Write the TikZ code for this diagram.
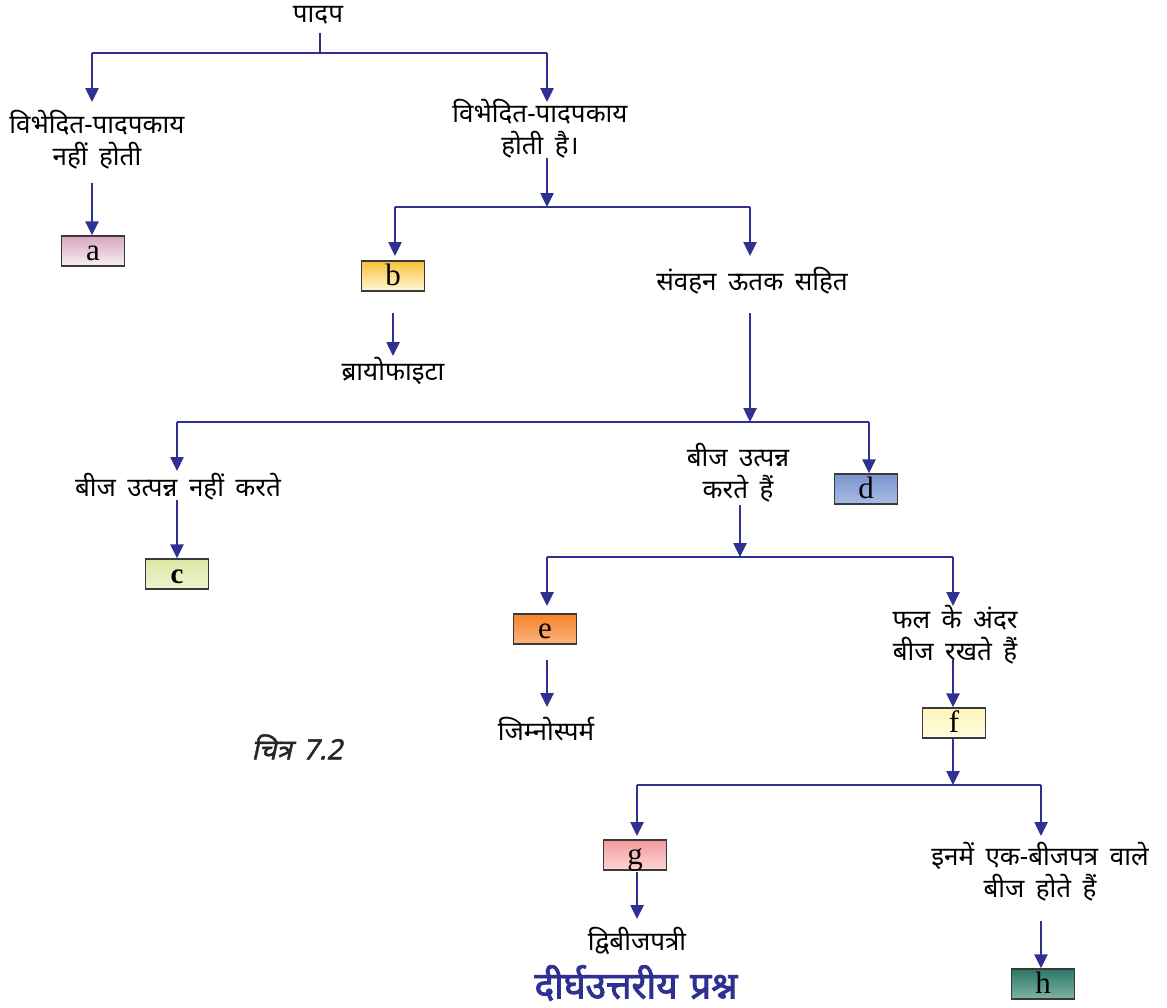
\documentclass[tikz,border=0pt]{standalone}
\usepackage{fontspec}
\newfontfamily\dev[Script=Devanagari,WordSpace=1.7]{Noto Sans}
\newfontfamily\devfig[Script=Devanagari,FakeSlant=0.22,FakeBold=1.5,WordSpace=1.5]{Noto Sans}
\newfontfamily\devbf[Script=Devanagari,FakeBold=2.5,WordSpace=1.3]{Noto Sans}
\newfontfamily\boxfont{Liberation Serif}
\usetikzlibrary{arrows.meta,shadings}
\definecolor{lineblue}{HTML}{2E3192}
\definecolor{boxgray}{HTML}{3A3A3A}
\begin{document}
\begin{tikzpicture}[x=1pt,y=-1pt,
  ln/.style={draw=lineblue,line width=2.5pt},
  arr/.style={ln,-{Triangle[width=13pt,length=14pt]}},
  lbl/.style={font=\dev\fontsize{26}{32}\selectfont,align=center,inner sep=0pt},
  box/.style={draw=boxgray,line width=1.3pt,minimum width=63pt,minimum height=30pt,inner sep=0pt,text height=24pt,text depth=6pt,font=\boxfont\fontsize{31}{31}\selectfont},
]
\definecolor{caT}{HTML}{D8A6C0}\definecolor{caB}{HTML}{F8EFF4}
\definecolor{cbT}{HTML}{F9C23A}\definecolor{cbB}{HTML}{FFF7D8}
\definecolor{ccT}{HTML}{DAE7A4}\definecolor{ccB}{HTML}{EEF4CF}
\definecolor{cdT}{HTML}{7B95CF}\definecolor{cdB}{HTML}{AABCE4}
\definecolor{ceT}{HTML}{F5842A}\definecolor{ceB}{HTML}{FBB47F}
\definecolor{cfT}{HTML}{FFF4B8}\definecolor{cfB}{HTML}{FFFCE2}
\definecolor{cgT}{HTML}{F39A9C}\definecolor{cgB}{HTML}{FCD6D6}
\definecolor{chT}{HTML}{2C7767}\definecolor{chB}{HTML}{80B3A5}
\useasboundingbox[fill=white] (0,0) rectangle (1167,1007);

% text nodes
\node[lbl] (root) at (318,15) {पादप};
\node[lbl] (L1) at (97,140) {विभेदित-पादपकाय\\नहीं होती};
\node[lbl] (R1) at (540,129) {विभेदित-पादपकाय\\होती है।};
\node[lbl] (vasc) at (752,281) {संवहन ऊतक सहित};
\node[lbl] (bryo) at (393,371) {ब्रायोफाइटा};
\node[lbl] (noseed) at (178,487) {बीज उत्पन्न नहीं करते};
\node[lbl] (seed) at (738,473) {बीज उत्पन्न\\करते हैं};
\node[lbl] (fruit) at (955,635) {फल के अंदर\\बीज रखते हैं};
\node[lbl] (gymno) at (546,729) {जिम्नोस्पर्म};
\node[lbl] (mono) at (1040,872) {इनमें एक-बीजपत्र वाले\\बीज होते हैं};
\node[lbl] (dicot) at (637,941) {द्विबीजपत्री};
\node[font=\devfig\fontsize{28}{28}\selectfont,text=black!85,inner sep=0pt] (fig) at (297,747) {चित्र 7.2};
\node[font=\devbf\fontsize{37}{37}\selectfont,text=lineblue,inner sep=0pt] (title) at (636,983) {दीर्घउत्तरीय प्रश्न};

% boxes
\node[box,top color=caT,bottom color=caB] (a) at (93,251) {a};
\node[box,top color=cbT,bottom color=cbB] (b) at (393,276) {b};
\node[box,top color=ccT,bottom color=ccB,font=\boxfont\bfseries\fontsize{29}{29}\selectfont] (c) at (177,574) {c};
\node[box,top color=cdT,bottom color=cdB] (d) at (866,489) {d};
\node[box,top color=ceT,bottom color=ceB] (e) at (545,629) {e};
\node[box,top color=cfT,bottom color=cfB] (f) at (954,723) {f};
\node[box,top color=cgT,bottom color=cgB] (g) at (635,855) {g};
\node[box,top color=chT,bottom color=chB] (h) at (1043,984) {h};

% junctions and arrow ends
\coordinate (j1) at (320,53);
\coordinate (j1l) at (92,53);
\coordinate (j1r) at (547,53);
\coordinate (j2) at (547,207);
\coordinate (j2l) at (395,207);
\coordinate (j2r) at (750,207);
\coordinate (j3) at (750,422);
\coordinate (j3l) at (177,422);
\coordinate (j3r) at (869,422);
\coordinate (j4) at (740,557);
\coordinate (j4l) at (547,557);
\coordinate (j4r) at (953,557);
\coordinate (j5) at (953,785);
\coordinate (j5l) at (637,785);
\coordinate (j5r) at (1041,785);

% level 1
\draw[ln] (320,33) -- (j1);
\draw[ln] (j1l) -- (j1r);
\draw[arr] (j1l) -- (92,102);
\draw[arr] (j1r) -- (547,102);
\draw[arr] (92,183) -- (a.north -| 92,0);
% level 2
\draw[arr] (547,158) -- (j2);
\draw[ln] (j2l) -- (j2r);
\draw[arr] (j2l) -- (395,256);
\draw[arr] (j2r) -- (750,256);
\draw[arr] (393,313) -- (393,356);
% level 3
\draw[arr] (750,313) -- (j3);
\draw[ln] (j3l) -- (j3r);
\draw[arr] (j3l) -- (177,471);
\draw[arr] (j3r) -- (d.north -| 869,0);
\draw[arr] (177,500) -- (c.north);
% level 4
\draw[arr] (740,505) -- (j4);
\draw[ln] (j4l) -- (j4r);
\draw[arr] (j4l) -- (547,606);
\draw[arr] (j4r) -- (953,606);
\draw[arr] (547,660) -- (547,707);
\draw[arr] (953,660) -- (f.north -| 953,0);
% level 5
\draw[arr] (f.south -| 953,0) -- (j5);
\draw[ln] (j5l) -- (j5r);
\draw[arr] (j5l) -- (637,836);
\draw[arr] (j5r) -- (1041,836);
\draw[arr] (637,872) -- (637,919);
\draw[arr] (1041,921) -- (h.north -| 1041,0);
\end{tikzpicture}
\end{document}
